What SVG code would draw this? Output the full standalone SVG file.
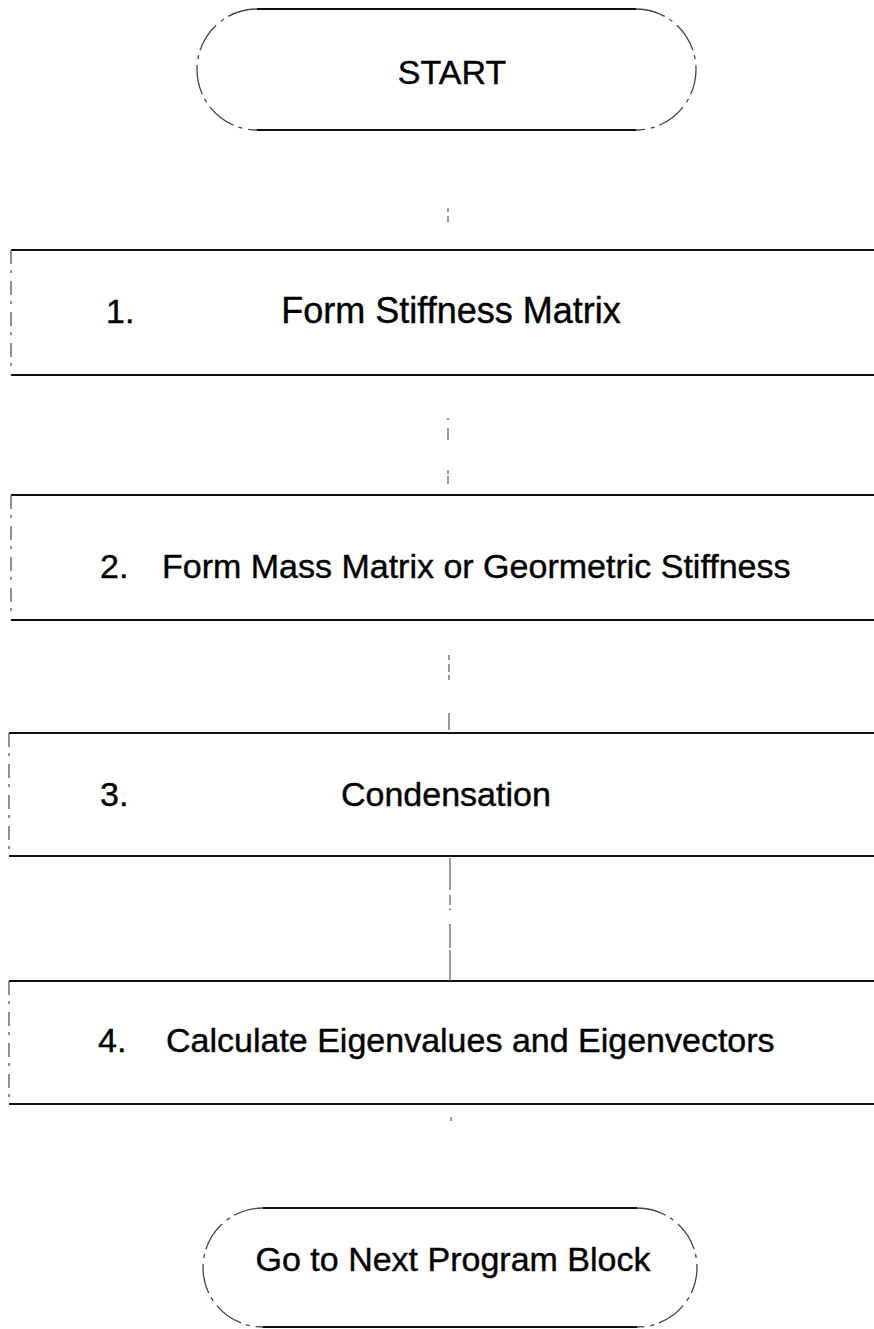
<svg xmlns="http://www.w3.org/2000/svg" width="874" height="1329" viewBox="0 0 874 1329">
<style>
text{font-family:"Liberation Sans",Arial,sans-serif;font-size:34px;fill:#000;stroke:#000;stroke-width:0.4}
.edge{stroke:#111;stroke-width:2.2;fill:none}
.side{stroke:#555;stroke-width:1.3;fill:none;stroke-dasharray:14 6 3 8}
.arc{stroke:#444;stroke-width:1.3;fill:none;stroke-dasharray:30 5 4 6}
.conn{stroke:#666;stroke-width:1.3;fill:none}
</style>
<rect width="874" height="1329" fill="#fff"/>
<g id="start">
<path class="edge" d="M257 9 H636 M257 130 H636"/>
<path class="arc" d="M257 9 A60 60.5 0 0 0 257 130 M636 9 A60 60.5 0 0 1 636 130"/>
<text x="452" y="84" text-anchor="middle">START</text>
</g>
<g id="step1">
<path class="edge" d="M11 250 H874 M11 375 H874"/>
<path class="side" d="M11 250 V375"/>
<text x="106" y="323">1.</text>
<text x="451" y="323" text-anchor="middle" style="font-size:36px">Form Stiffness Matrix</text>
</g>
<g id="step2">
<path class="edge" d="M11 495 H874 M11 620 H874"/>
<path class="side" d="M11 495 V620"/>
<text x="100" y="578">2.</text>
<text x="162" y="578">Form Mass Matrix or Geormetric Stiffness</text>
</g>
<g id="step3">
<path class="edge" d="M9 733 H874 M9 856 H874"/>
<path class="side" d="M9 733 V856"/>
<text x="100" y="806">3.</text>
<text x="341" y="806">Condensation</text>
</g>
<g id="step4">
<path class="edge" d="M9 981 H874 M9 1104 H874"/>
<path class="side" d="M9 981 V1104"/>
<text x="98" y="1052">4.</text>
<text x="166" y="1052">Calculate Eigenvalues and Eigenvectors</text>
</g>
<g id="end">
<path class="edge" d="M263 1208 H637 M263 1327 H637"/>
<path class="arc" d="M263 1208 A60 59.5 0 0 0 263 1327 M637 1208 A60 59.5 0 0 1 637 1327"/>
<text x="453" y="1271" text-anchor="middle">Go to Next Program Block</text>
</g>
<g id="connectors">
<path class="conn" d="M448 208 V212 M448 216 V222"/>
<path class="conn" d="M448 418 V420 M448 428 V440 M448 470 V474 M448 476 V484"/>
<path class="conn" d="M449 655 V660 M449 664 V672 M449 675 V680 M449 713 V730"/>
<path class="conn" d="M450 858 V890 M450 895 V905 M450 908 V910 M450 924 V948 M450 950 V981"/>
<path class="conn" d="M451 1117 V1121"/>
</g>
</svg>
